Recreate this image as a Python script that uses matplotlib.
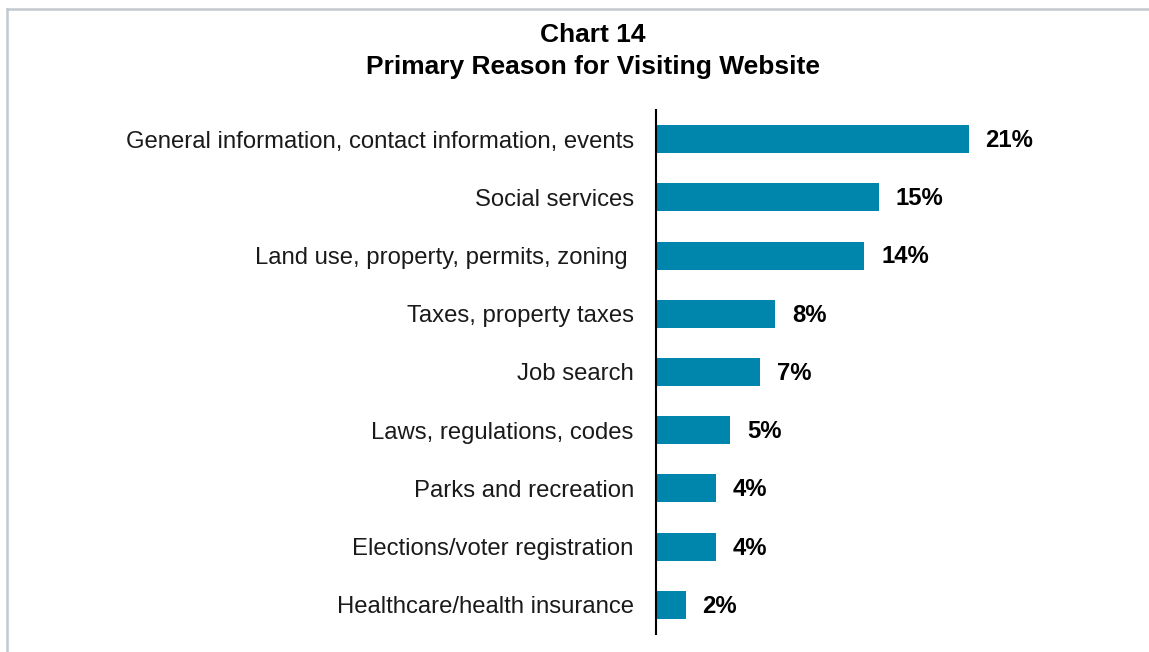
import matplotlib
matplotlib.use("Agg")
import matplotlib.pyplot as plt
from matplotlib.lines import Line2D

plt.rcParams["font.family"] = ["Liberation Sans", "DejaVu Sans"]

# ── Data ──────────────────────────────────────────────────────────────────
categories = [
    "General information, contact information, events",
    "Social services",
    "Land use, property, permits, zoning ",
    "Taxes, property taxes",
    "Job search",
    "Laws, regulations, codes",
    "Parks and recreation",
    "Elections/voter registration",
    "Healthcare/health insurance",
]
values = [21, 15, 14, 8, 7, 5, 4, 4, 2]
value_labels = ["21%", "15%", "14%", "8%", "7%", "5%", "4%", "4%", "2%"]

BAR_COLOUR = "#0085AD"

fig = plt.figure(figsize=(11.49, 6.52), dpi=100)
ax = fig.add_axes([0.571, 0.0276, 0.386, 0.8037])

y_pos = list(range(len(categories)))
ax.barh(y_pos, values, height=0.48, color=BAR_COLOUR)
ax.set_ylim(len(categories) - 0.5, -0.5)
ax.set_xlim(0, 29.8)

ax.set_yticks(y_pos)
ax.set_yticklabels(categories, fontsize=17.2, color="#1a1a1a")
ax.tick_params(axis="y", length=0, pad=16)
ax.set_xticks([])

for side in ["top", "right", "bottom"]:
    ax.spines[side].set_visible(False)
ax.spines["left"].set_linewidth(1.5)
ax.spines["left"].set_color("black")

for i, (v, lab) in enumerate(zip(values, value_labels)):
    ax.annotate(lab, xy=(v, i), xytext=(12, -1), textcoords="offset points",
                va="center", ha="left", fontsize=17.2, fontweight="bold")

fig.text(0.516, 0.947, "Chart 14", ha="center", va="center",
         fontsize=19, fontweight="bold")
fig.text(0.516, 0.898, "Primary Reason for Visiting Website", ha="center",
         va="center", fontsize=19, fontweight="bold")

# light frame at left and top edges
border = "#c3c9cf"
fig.add_artist(Line2D([0.0057, 0.0057], [0, 0.986], transform=fig.transFigure,
                      color=border, linewidth=1.8))
fig.add_artist(Line2D([0.0057, 1.0], [0.986, 0.986], transform=fig.transFigure,
                      color=border, linewidth=1.8))

fig.savefig("out.png", dpi=100)
